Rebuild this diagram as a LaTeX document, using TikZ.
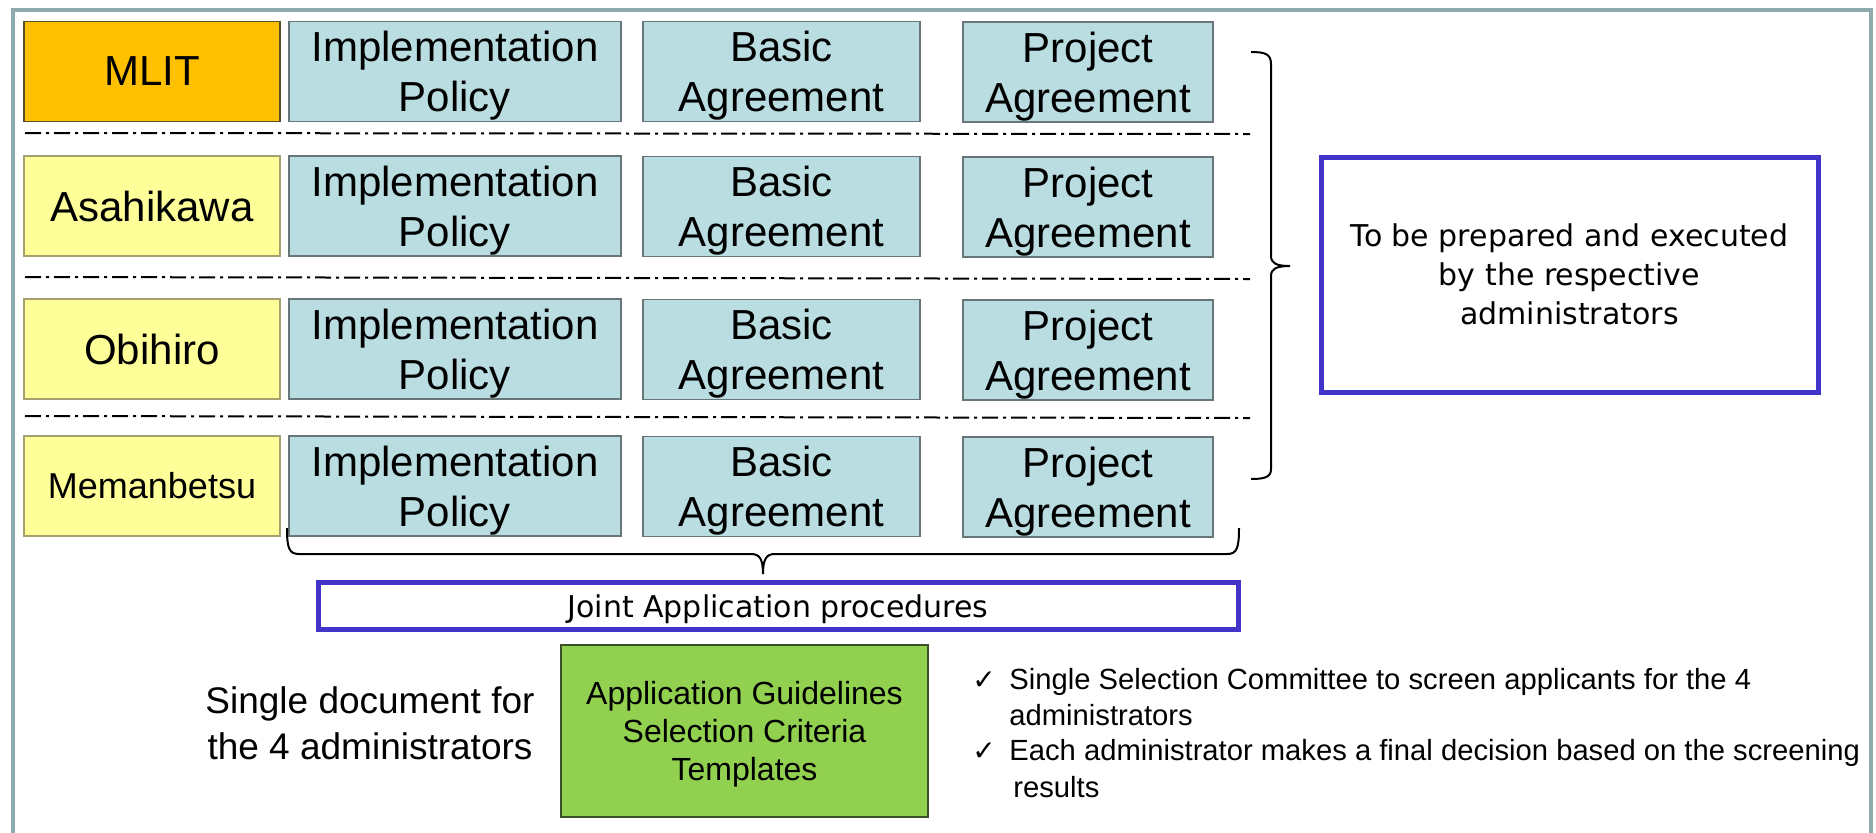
\documentclass[tikz,border=0pt]{standalone}
\usepackage{fontspec}
\setmainfont{Liberation Sans}
\newfontfamily\dejavu{DejaVu Sans}
\definecolor{frameC}{RGB}{143,170,173}
\definecolor{boxC}{RGB}{185,221,225}
\definecolor{boxL}{RGB}{105,118,121}
\definecolor{mlitC}{RGB}{255,192,0}
\definecolor{mlitL}{RGB}{90,80,40}
\definecolor{yelC}{RGB}{255,255,153}
\definecolor{yelL}{RGB}{165,160,110}
\definecolor{greenC}{RGB}{146,208,80}
\definecolor{greenL}{RGB}{60,80,40}
\definecolor{blueC}{RGB}{66,52,200}
\begin{document}
\begin{tikzpicture}[x=0.5pt,y=-0.5pt,
  docbox/.style={draw=boxL, fill=boxC, line width=0.6pt, inner sep=0pt, align=center,
    minimum height=50pt, text depth=0pt, font=\fontsize{21}{25}\selectfont},
  implbox/.style={docbox, minimum width=166pt},
  basicbox/.style={docbox, minimum width=138.5pt},
  projbox/.style={docbox, minimum width=125pt},
  adminbox/.style={draw=yelL, fill=yelC, line width=0.6pt, inner sep=0pt, align=center,
    minimum height=50pt, minimum width=128pt, font=\fontsize{21}{25}\selectfont},
  sepline/.style={line width=1pt, dash pattern=on 8pt off 2.5pt on 1.5pt off 2.5pt},
  bracepath/.style={line width=1pt},
  bluebox/.style={draw=blueC, line width=2.5pt, fill=white, inner sep=0pt},
  plain/.style={inner sep=0pt},
  listtext/.style={plain, anchor=base west, font=\fontsize{14.6}{17.5}\selectfont},
  checkmk/.style={plain, anchor=base west, font=\dejavu\fontsize{14}{17}\selectfont}
]
\useasboundingbox (0,0) rectangle (1876,832);
% frame
\draw[frameC, line width=2pt] (12.5,840) -- (12.5,10) -- (1871,10) -- (1871,840);

% rows
\node[adminbox, fill=mlitC, draw=mlitL] (mlit) at (152,71.5) {MLIT};
\node[implbox] (i1) at (455,71.5) {Implementation\\Policy};
\node[basicbox] (b1) at (781.5,71.5) {Basic\\Agreement};
\node[projbox] (p1) at (1088,72) {Project\\Agreement};

\node[adminbox] (asa) at (152,206) {Asahikawa};
\node[implbox] (i2) at (455,206) {Implementation\\Policy};
\node[basicbox] (b2) at (781.5,206.5) {Basic\\Agreement};
\node[projbox] (p2) at (1088,207) {Project\\Agreement};

\node[adminbox] (obi) at (152,349) {Obihiro};
\node[implbox] (i3) at (455,349) {Implementation\\Policy};
\node[basicbox] (b3) at (781.5,349.5) {Basic\\Agreement};
\node[projbox] (p3) at (1088,350) {Project\\Agreement};

\node[adminbox, font=\fontsize{18}{22}\selectfont] (mem) at (152,486) {Memanbetsu};
\node[implbox] (i4) at (455,486) {Implementation\\Policy};
\node[basicbox] (b4) at (781.5,486.5) {Basic\\Agreement};
\node[projbox] (p4) at (1088,487) {Project\\Agreement};

% separators
\draw[sepline] (25,133) -- (1250,134);
\draw[sepline] (25,277) -- (1250,279);
\draw[sepline] (25,416) -- (1250,418);

% right brace
\draw[bracepath] (1251,52) .. controls (1265,52) and (1271,54) .. (1271,64)
  -- (1271,256) .. controls (1271,263) and (1276,266) .. (1290,266)
  .. controls (1276,266) and (1271,269) .. (1271,276)
  -- (1271,469) .. controls (1271,477) and (1265,479) .. (1251,479);

% right blue box
\node[bluebox, minimum width=248.5pt, minimum height=117.5pt, align=center,
  font=\dejavu\fontsize{15}{19.5}\selectfont] (resp) at (1569.5,274.5)
  {To be prepared and executed\\by the respective\\administrators};

% bottom brace
\draw[bracepath] (287,528) .. controls (287,548) and (289,554) .. (299,554)
  -- (751,554) .. controls (759,554) and (763,558) .. (763,574)
  .. controls (763,558) and (767,554) .. (775,554)
  -- (1227,554) .. controls (1237,554) and (1239,548) .. (1239,528);

% joint box
\node[bluebox, minimum width=460pt, minimum height=23.75pt, text depth=0pt,
  font=\dejavu\fontsize{15}{18}\selectfont] (joint) at (778,605.75)
  {Joint Application procedures};

% green box
\node[draw=greenL, fill=greenC, line width=0.6pt, inner sep=0pt, align=center,
  minimum width=183.5pt, minimum height=86pt, text depth=0pt,
  font=\fontsize{16}{19}\selectfont] (guide) at (744.5,731)
  {Application Guidelines\\Selection Criteria\\Templates};

% left text
\node[plain, anchor=base, font=\fontsize{18.5}{22}\selectfont] (single1) at (370,713) {Single document for};
\node[plain, anchor=base, font=\fontsize{18.5}{22}\selectfont] (single2) at (370,759) {the 4 administrators};

% checklist
\node[checkmk] (c1) at (972,689) {✓};
\node[listtext] (t1a) at (1009,689) {Single Selection Committee to screen applicants for the 4};
\node[listtext] (t1b) at (1009,725) {administrators};
\node[checkmk] (c2) at (972,760) {✓};
\node[listtext] (t2a) at (1009,760) {Each administrator makes a final decision based on the screening};
\node[listtext] (t2b) at (1013,797) {results};
\end{tikzpicture}
\end{document}
